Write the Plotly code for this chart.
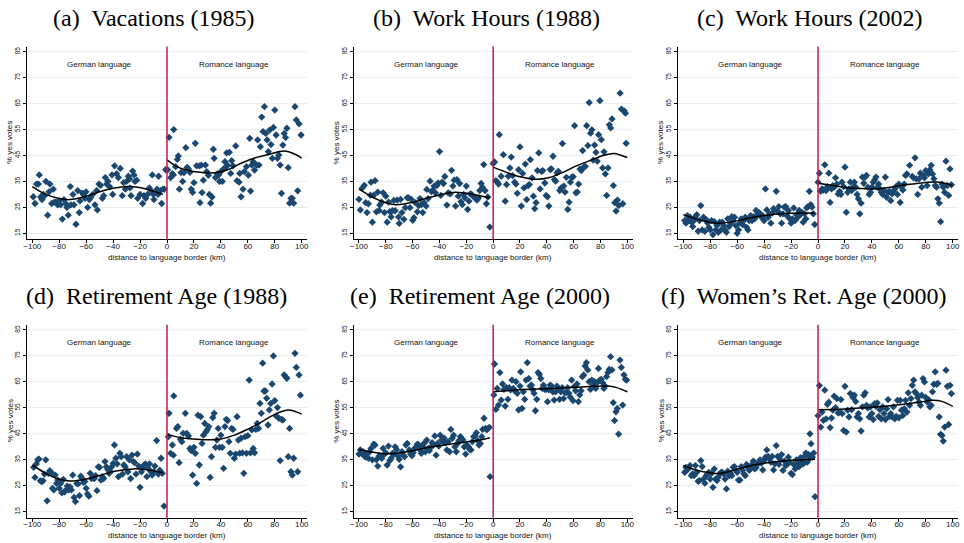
import plotly.graph_objects as go

# ---------------- data (x = distance to border in km, y = % yes votes) ----------------
A_DE = [(-99.3,29.1),(-98,26.5),(-96.8,34),(-95.5,34),(-94.8,37.5),(-93.8,29),(-92.8,28),(-91.8,30),(-90.8,29.5),(-89.9,35),
        (-88.6,22),(-87.6,31),(-86.9,34),(-85.6,26.5),(-84.4,32),(-83.7,27),(-82.4,27),(-81.2,26),(-80,27.5),(-79,26),
        (-77.7,20.5),(-76.5,28),(-75.2,26.5),(-74.3,25),(-73.3,22),(-71.8,33),(-71.3,26),(-69.8,30),(-69.1,26),(-67.6,18.5),
        (-66.3,31.5),(-65.1,23),(-64.6,27.5),(-62.9,30.5),(-62.1,30),(-60.9,28.5),(-60.1,31),(-58.9,25),(-57.7,28),(-56.4,29),
        (-55.2,30),(-53.5,26),(-52.2,31.5),(-51.7,24),(-50.5,34),(-49.3,33.5),(-48,28.5),(-47,29.5),(-45.8,36.5),(-44.8,34),
        (-43.8,35),(-42.6,33),(-40.3,30),(-40.8,37.5),(-38.9,41),(-37.4,38),(-34.7,40),(-36.1,36.5),(-33.2,29.5),(-32.2,34.5),
        (-30.9,32),(-30,35),(-28.7,37),(-27.7,36),(-27.5,32.5),(-26.7,29.5),(-25.5,39),(-24.5,37.5),(-23.8,35),(-22.5,35.5),
        (-21.8,28.5),(-20,30),(-18.1,26.5),(-17.1,29.5),(-15.8,28.5),(-14.4,30),(-13.1,32.5),(-10.9,37.5),(-11.9,31.5),(-10.1,30),
        (-9.7,28),(-7.4,32),(-6.7,30),(-6.2,37),(-5,31.5),(-4,26.5),(-3,32),(-2,32),(-1,39.5)]
A_RO = [(0.5,39.5),(1.5,52),(2.7,36.5),(4,38),(4.7,37.5),(5,55),(6.4,40.7),(7.7,43.5),(8.4,44.8),(9.2,32),
        (10.4,38.4),(11.6,35),(12.6,38.4),(14,48),(14.9,40.4),(16,39.8),(17,38.5),(18,32),(19,30.8),(20,34.5),
        (21,49.7),(22,41),(24,41),(24.5,26.8),(25.5,41.3),(26,30.7),(27,35.5),(28.5,41.3),(29.5,38.8),(30.7,37.3),
        (31.4,30),(32.4,26.6),(33.4,29),(34.4,47.4),(35,43.9),(36,36.5),(37.4,37.9),(38.4,37.5),(39,35),(40,38.8),
        (41,35),(42.3,40),(43,42.6),(44.3,46),(45,41.2),(46.3,46.2),(47.3,38.1),(48,43),(49,41),(51,48.7),
        (52,35.3),(53.5,34.7),(54,38.1),(55,29.1),(56.4,32),(57.4,38.8),(59,40.7),(60.4,37.4),(61.4,51.6),(62,31.3),
        (63,41.3),(64,42.6),(65,39.4),(66.6,41.3),(67.3,51),(68.3,41.3),(69.3,48.4),(70.3,59.8),(71.3,54.2),(72.3,63.8),
        (73.3,53.5),(74.3,51),(75.2,46.5),(76.2,54.8),(77.2,49.2),(78.2,43.9),(79,55.8),(80,62.5),(81,52.9),(82,43.9),
        (83,45.2),(84,41.3),(85,30.4),(86,49),(87,53.5),(88,51.9),(89,55.5),(90,40.3),(91,26.6),(92,28.5),
        (93,28.5),(94,26.6),(95,63.8),(96,58.7),(97,31.4),(98,57.2),(99.5,52.9)]
B_DE = [(-100,28.1),(-99,24),(-97.5,32.5),(-96,33.5),(-95,26.8),(-94,23),(-93,26.4),(-91.5,29.7),(-91,34.7),(-90,19.3),
        (-89,29.7),(-88,35.3),(-87,23.3),(-86,30.9),(-85,23.8),(-84.5,25.9),(-83,27),(-82,30.6),(-81,23),(-80,29.3),
        (-79,19.3),(-78,27),(-77,23.4),(-76,21.3),(-75,23.7),(-74,27.7),(-73,23.7),(-71.5,27.8),(-70.5,21.3),(-70,18.8),
        (-69,28.1),(-68,23),(-66.5,20.4),(-65.5,24.9),(-64,28.7),(-63,28.7),(-62,24.9),(-61,28.1),(-60,20),(-59,21),
        (-58,26.8),(-56.5,23.3),(-55.5,25.7),(-54.5,28.4),(-53.5,26.1),(-52.5,23),(-51.5,26.8),(-50,25.5),(-49.5,31.9),(-48.5,28.4),
        (-47,35.1),(-46,31.1),(-45,31.6),(-44,33.2),(-43,30.6),(-42,33.4),(-41,34.4),(-40,46.5),(-39,29.6),(-38,34.7),
        (-37,34.2),(-36,36.9),(-34.5,25.9),(-33.5,30.6),(-32,30.2),(-31,39.3),(-30,33.2),(-29,35.5),(-28,25.5),(-27,35.7),
        (-26,29.3),(-25,34.2),(-24,27.2),(-23,26.1),(-22,30),(-21,28.7),(-20,33.2),(-19,24.2),(-18,27.4),(-17,30.2),
        (-16,30),(-15,29.3),(-13,28.3),(-12,27.8),(-11,28.6),(-10,31.5),(-9,34.2),(-8,32.8),(-7,41.5),(-6,31.5),
        (-5,26.4),(-4,29),(-2.5,17.4)]
B_RO = [(0,41.9),(1,42.5),(2,35.3),(3,34.8),(4,34),(4.6,53),(6,37),(7.6,45.3),(9,27.4),(10,33.8),
        (11.3,37),(12.5,40.2),(13.5,44.4),(14.5,37.2),(16,34.7),(17,34),(18,30.4),(19,39.5),(20,48.3),(21,25.5),
        (22,38.1),(23,32.5),(24,41.7),(25,28),(26,33.4),(27,33.8),(27.7,43.4),(29,36.4),(30,29.3),(31,24.5),
        (32,26.8),(33,39.2),(34,46),(35,32.1),(36,38.9),(37,39.2),(38.5,34.4),(39.5,29.6),(40.5,29.1),(41.5,25.5),
        (42.5,39.6),(43.4,39.8),(44.6,44.7),(45.6,35.7),(46.6,35.1),(47.6,38.3),(48.6,38.9),(49.6,31.5),(50.6,32.5),(51.6,49.6),
        (52.6,33.2),(53.6,30.9),(54.6,36.6),(55.6,24.2),(56.6,27),(57.6,34.7),(58.6,36.6),(59.6,36.8),(60.7,56.5),(61.7,30.6),
        (62.7,30.9),(63.7,34),(64.7,39.8),(65.7,39.2),(66.7,46.9),(67.7,40.6),(68.7,40.8),(69.7,56.5),(70.6,48.8),(71.6,65.4),
        (72.6,53.6),(73.6,54.9),(74.6,43.2),(75.6,49),(76.6,46.2),(77.6,42.8),(78.6,53),(79.6,66.1),(80.6,51.1),(81.6,40.2),
        (82.6,46.4),(83.6,37.9),(84.6,29.6),(85.6,40.2),(86.6,56.8),(87.6,55.6),(88.6,59.1),(89.6,33.4),(90.6,26.8),(91.6,23.6),
        (92.6,27.8),(93.6,25.7),(94.6,69),(95.6,62.9),(96.6,26.4),(97.6,62.2),(98.6,61.3),(99.1,49.7)]
C_DE = [(-99,19.9),(-98,18.9),(-97,21.8),(-96,20.2),(-95,21.2),(-94,19.3),(-93,17.6),(-92,19.9),(-91,21.4),(-90,22.2),
        (-89,15.8),(-88,19.9),(-87,25.7),(-86,16.3),(-85,21.2),(-84,15.8),(-83,20.3),(-82,19),(-81,17.3),(-80,16.3),
        (-79,19.9),(-78,14.5),(-77,19.5),(-76,16.3),(-75,18),(-74,15.4),(-73,19.3),(-72,16.3),(-71,19.3),(-70,18),
        (-69,16.3),(-68,15.4),(-67,20.6),(-66,17.6),(-65,18.6),(-64,21.4),(-63,19.9),(-62,21.2),(-61,18),(-60,15),
        (-59,16.3),(-58,18.9),(-57,20.6),(-56,18.4),(-55,19.9),(-54,21.2),(-53,17.3),(-52,16.3),(-51,19.9),(-50,21.8),
        (-49,19.9),(-48,21.4),(-47,20.6),(-46,23.8),(-45,22.2),(-44,23.1),(-43,22.5),(-42,21.2),(-41,21.8),(-40,19.9),
        (-39,32.1),(-38,24),(-37,21.2),(-36,22.5),(-35,18.9),(-34,22.8),(-33,24.5),(-31,31.2),(-30,23.5),(-29,25.3),
        (-28,22.5),(-27,18.9),(-26,22.5),(-25,25.1),(-24,25.3),(-23,21.8),(-22,23.8),(-21,20.6),(-20,18.9),(-19,20.6),
        (-18,24.8),(-17,19.9),(-16,22.2),(-15,21.2),(-14,23.8),(-13,22.2),(-12,23.1),(-11,19.3),(-10,22.5),(-9,20.6),
        (-8.4,24.8),(-7.4,25.3),(-6.4,31.2),(-5.4,26.1),(-4.5,25.1),(-3.5,22.5),(-2.5,18.4)]
C_RO = [(0,34.7),(1,38.2),(2,31.2),(3,32.1),(4,31.7),(5,41.4),(6,31.5),(7,33),(8,38.2),(9,26.9),
        (10,32.1),(11,33.4),(12,32.8),(13,36.4),(14,34),(15,30.2),(16,31.2),(17,30),(17.8,34.7),(19,33),
        (20,40.5),(21,23.1),(22,30.8),(23,32.1),(24,34.7),(25,31.5),(26,32.8),(27,34.7),(28,32.8),(29,30),
        (30,28.3),(31,22.5),(32,26.6),(33,36.7),(34,34.3),(35,36.7),(36,37.3),(37,32.8),(38,30),(39,30.8),
        (40,32.8),(41,34.7),(42,35.6),(43,36.7),(44,32.8),(45,34),(46,32.1),(47,30.8),(48,30),(49,31.5),
        (50,36.7),(51,28.9),(52,30.8),(53,31.2),(54,27.6),(55,30.2),(56,31.2),(57,32.1),(58,33),(59,30),
        (60,34),(61,26.9),(62,32.8),(63,31.7),(64,34),(65,37.3),(66,37.9),(68,41.2),(70,36.9),(71,36.4),
        (72,44.1),(73,36),(74,30),(75,36),(76,38.2),(77,32.8),(78,37.3),(79,36.4),(80,39.2),(81,33.4),
        (82,37.9),(83,39.5),(84,41.2),(85,37.9),(86,36),(87,33.4),(88,32.8),(89,28.3),(90,26.6),(91,19.5),
        (92,34),(93,32.8),(94,30.8),(95,42.8),(96,33.4),(97,29.6),(98,39.8),(99,33.7)]
D_DE = [(-99,32.1),(-98,28.2),(-97,33.4),(-96,35),(-95,35.3),(-94,26.9),(-93,26.6),(-92,26.9),(-91,29.5),(-90,35),
        (-89,19.2),(-88,29.8),(-87,30.8),(-86,30.2),(-85,24),(-84,23.4),(-83,29.1),(-82,25.9),(-81,27.2),(-80,24),
        (-79,25.9),(-78,22.3),(-77,27.5),(-76,22.7),(-75,23.4),(-74,24.9),(-73,23.4),(-72,24.6),(-71,23.4),(-70,29.1),
        (-69,20.5),(-68,18.9),(-67,25.9),(-66,25.7),(-65,21.2),(-64,28.7),(-63,27.8),(-62,26.3),(-61,26.6),(-60,24),
        (-59,21.8),(-58,21),(-57,29.8),(-56,27.8),(-55,28.5),(-54,27.8),(-53,28.9),(-52,23.1),(-51,32.3),(-50,32.1),
        (-49,27.2),(-48,28.5),(-47,27.8),(-46,34.3),(-45,32.3),(-44,31.3),(-43,29.8),(-42,30.4),(-41,32.3),(-40,33.6),
        (-39,40.7),(-38,35.6),(-37,33.4),(-36,28.5),(-35,37.5),(-34,36.2),(-33,29.5),(-32,33),(-31,32.3),(-30,36.2),
        (-29,30.4),(-28,35),(-27,27.8),(-26,36.8),(-25,34.3),(-24,33.9),(-23,29.5),(-22,37.2),(-21,32.6),(-20,24.4),
        (-19,30.4),(-18,32.3),(-17,33),(-16,33.4),(-15,28.5),(-14,31.7),(-13,33.4),(-12,30.4),(-11,29.1),(-10,30.4),
        (-9,32.6),(-7.7,42.4),(-6.4,29.5),(-5.4,31),(-4.4,35.6),(-3.5,29.8),(-2.2,17.2)]
D_RO = [(1,43.9),(1.5,52.9),(2.7,37.5),(4,40.7),(5,59.6),(4.7,36.8),(7,47.1),(8,47.8),(9,33.9),(10,42.9),
        (11,42),(12,45.2),(13.6,52.9),(14.6,45.2),(16,44.2),(17,39.4),(18,38.5),(19,29.1),(20,39.8),(21,37.5),
        (22,25.9),(23,52.2),(24,33),(25,51.6),(26,41.3),(27,44.5),(28,49),(29,45.8),(30,46.7),(31,47.8),
        (32,28.2),(33,36.2),(34,51.3),(35,52.9),(36,39.8),(37,42.6),(38,47.1),(39,39.8),(40,44.5),(41,39.8),
        (42,31.7),(43,47.8),(44,50.6),(45,50.1),(46,42),(47,37.5),(48,47.1),(49,46.7),(50,35.6),(51,37.2),
        (52,51.6),(53,42.6),(54,37.5),(55,43.3),(56,37.7),(57,29.8),(58,43.9),(59,37.5),(60,44.3),(61,65.7),
        (62,37.7),(63,46.5),(64,39.4),(65,37.7),(66,46.7),(67,49),(68,47.1),(69,56.7),(70,52.9),(71,72.2),
        (72,61.5),(73,61.5),(74,58.7),(75,48.4),(76,54.2),(77,56.7),(78,64.2),(79,75),(80,57.8),(81,51.9),
        (82,55.1),(83,51),(84,34.7),(85,50.6),(86,50.3),(87,67.7),(88,67),(89,66.4),(90,36.2),(91,47.1),
        (92,30.4),(93,29.1),(94,35.6),(95,76),(96,70.6),(97,30.4),(98,67.7),(99,59.9)]
E_DE = [(-100,37.2),(-99,38.8),(-98,37.5),(-97,38.1),(-96,36.5),(-95,36),(-94,37.2),(-93,35.6),(-92,38.1),(-91,39.4),
        (-90,35),(-89,41),(-88,40.7),(-87,35),(-86,32.6),(-85,36.5),(-84,36.2),(-83,35.6),(-82,39.4),(-81,37.2),
        (-80,37.7),(-79,33),(-78,40.3),(-77,34.7),(-76,35.6),(-75,37.5),(-74,37.2),(-73,40),(-72,39),(-71,36.5),
        (-70,35.2),(-69,32.3),(-68,38.1),(-67,36.8),(-66,36.2),(-65,40.7),(-64,41.3),(-62.5,38.8),(-61.5,37.2),(-60.5,36.6),
        (-59.5,37.7),(-58.5,39.4),(-57.5,39.8),(-56.5,41),(-55.5,40.7),(-54.5,38.8),(-53.5,37.5),(-52.5,40),(-51.5,41.3),(-50.5,38.1),
        (-49.5,42.6),(-48.5,39.4),(-47.5,38.5),(-46.5,39.8),(-45.5,41.6),(-44.5,40.7),(-43.5,44.2),(-42.5,36.8),(-41.5,41.3),(-40.5,40.3),
        (-39.5,44.5),(-38.5,42.6),(-37.5,42),(-36.5,43.3),(-35.5,41.6),(-34.5,38.8),(-33.5,42),(-32.5,38.1),(-31.5,46.7),(-30.5,43.3),
        (-29.5,44.5),(-28.5,40),(-27.5,38.1),(-26.5,41.3),(-25.5,42.4),(-24.5,43.9),(-23.5,43.3),(-22.5,42.6),(-21.5,40),(-20.5,37.2),
        (-19.5,40.7),(-18.5,40),(-17.5,39),(-16.5,38.8),(-15.5,42),(-14.5,43.9),(-13.5,44.2),(-12.5,45.4),(-11.5,42.4),(-10.5,40.7),
        (-9.5,41.3),(-8.5,43.9),(-7.8,46.7),(-6.8,51),(-5.8,47.1),(-4.8,46.5),(-3.8,47.1),(-2.8,47.5),(-2.3,28.5)]
E_RO = [(0.5,60),(1,71.9),(2,54.4),(3,62.5),(4,56.1),(5,68.6),(6,58),(7,64.2),(8,62.1),(9,55.7),
        (10,62.8),(11,58.3),(12,62.8),(13,61.9),(14,65.7),(15,62.5),(16,61.6),(17,65.1),(18,60.6),(19,54.2),
        (20,63.4),(20.5,68.9),(21.5,54.8),(22.5,61.2),(23.5,58.3),(24.5,65.7),(25.5,72.4),(26.5,66.3),(27.5,63.4),(28.5,63.8),
        (29.5,61.9),(30.5,60.6),(31.5,53.9),(32.5,58.3),(33.5,68.6),(34.5,67.9),(35.5,66.3),(36.5,62.5),(37.5,63.8),(38.5,62.1),
        (39.5,62.1),(40.5,57.4),(41.5,61.9),(42.5,63.8),(43.5,63.4),(44.5,61.2),(45.5,58),(46.5,61.2),(47.5,63.4),(48.5,62.5),
        (49.5,58.3),(50.5,61.2),(51.5,62.8),(52.5,58.6),(53.5,60.9),(54.5,60.9),(55.5,62.8),(56.5,60.6),(57.5,59.1),(58.5,65.7),
        (59.5,57.8),(60.5,63.2),(61.5,61.6),(62.5,64.2),(63.5,57.4),(64.5,60),(65.5,61.6),(66.5,67),(67.5,67.7),(68.5,71.1),
        (69.5,72.4),(70.5,69.6),(71.5,65.1),(72.5,62.1),(73.5,65.7),(74.5,63.8),(75.5,65.1),(76.5,62.5),(77.5,64.7),(78.5,70.2),
        (79.5,65.7),(80.5,66),(81.5,64.7),(82.5,62.5),(83.5,63.4),(84.5,67),(85.5,68.6),(86.5,69.8),(87.5,74.7),(88.5,69.6),
        (89.5,57),(90.5,50.1),(91.5,53.5),(92.5,54.8),(93.5,44.9),(94.5,73.4),(95.5,70.6),(96.5,56.1),(97.5,67.7),(98.5,66),(99.5,65.7)]
F_DE = [(-99,30.2),(-98,32.1),(-97,31.1),(-96,31.9),(-95,32.8),(-94,28.9),(-93,29.6),(-92,28.9),(-91,32.8),(-90,30.2),
        (-89,26.7),(-88,27),(-87,34.7),(-86,32.4),(-85,27.6),(-84,26),(-83,28.9),(-82,29.6),(-81,30.2),(-80,27.6),
        (-79,29.8),(-78,24.4),(-77,31.5),(-76,27.6),(-75,27),(-74,28.3),(-73,29.6),(-72,30.2),(-71,30.2),(-70,29.6),
        (-69,27.6),(-68,23.8),(-67,30.6),(-66,28.9),(-65,29.8),(-64,28.9),(-63,32.1),(-62,32.4),(-61,30.9),(-60,30.2),
        (-59,27.2),(-58,27.2),(-57,32.4),(-56,31.1),(-55,29.6),(-54,28.9),(-53,33.2),(-52,32.1),(-51,30.9),(-50,32.4),
        (-49,33.2),(-48,34.5),(-47,31.5),(-46,31.9),(-45,33.2),(-44,34.1),(-43,35),(-42,33.7),(-41,31.1),(-40,34.7),
        (-39,36),(-38,38.8),(-37,36.3),(-36,35.4),(-35,34.1),(-34,36.3),(-33,31.1),(-32,33.4),(-31,40.5),(-30,36.3),
        (-29,33.2),(-28,35),(-27,37),(-26,30.9),(-25,34.5),(-24,32.8),(-23,33.2),(-22,36),(-21,34.1),(-20,29.8),
        (-19,29.3),(-18,33.2),(-17,31.5),(-16,35),(-15,33.4),(-14,32.4),(-13,35.8),(-12,34.5),(-11,33.4),(-10,36.3),
        (-9,37.6),(-8,34.1),(-7,37),(-6.4,35.4),(-6,45),(-5.2,41.2),(-4.2,36),(-3.2,37.6),(-2.2,20.8)]
F_RO = [(0,52),(1,63.6),(2,47.6),(3,53.4),(4,50.2),(5,61.8),(6,50.8),(7,56.4),(8,57.2),(9,47.4),
        (10,51.1),(11,54.1),(12,59.5),(13,55.1),(14,58.6),(15,53),(16,53.4),(17,58.2),(18,52.8),(19,46.3),
        (20,63.3),(21,45.7),(22,54.1),(23,51.5),(24,60.5),(25,54.3),(26,59),(27,59.9),(28,57.5),(29,51.5),
        (30,52.8),(31,50.8),(32,46.1),(33,55.4),(34,59.9),(35,60.8),(36,56),(37,55),(38,51.5),(39,55.4),
        (40,52.8),(41,50.5),(42,56.6),(43,55.6),(44,56.9),(45,51.7),(46,54.3),(47,50.8),(48,55.4),(49,52.8),
        (50,50.5),(51,54.7),(52,58.2),(53,51.7),(54,52.8),(55,51.5),(56,55.4),(57,50.8),(58,51.7),(59,57.9),
        (60,51.2),(61,57.9),(62,54.1),(63,52.1),(64,54.7),(65,57.9),(66,53.4),(67,60.8),(68,56),(69,58.6),
        (70,63.7),(71,65.7),(72,61.2),(73,60.5),(74,59),(75,57.3),(76,56),(77,59.9),(78,66.3),(79,65),
        (80,59),(81,57.3),(82,58.2),(83,55.4),(84,56),(85,61.2),(86,64.1),(87,68.9),(88,64.1),(89,64.4),
        (90,51.5),(91,44.8),(92,44.4),(93,42.2),(94,47.6),(95,69.5),(96,63.3),(97,48.6),(98,63.7),(99,60.5)]

# fitted curves (knots)
A_DE_FIT = [(-100,33),(-90,30),(-80,28.4),(-72,28),(-60,29.3),(-50,31),(-40,32.4),(-27,33),(-15,32),(-3,30)]
A_RO_FIT = [(0,43.3),(8,40.5),(15,39.3),(25,38.5),(35,38.3),(45,39.5),(55,42),(65,44),(75,45.3),(87,46.7),(95,45.5),(100,44)]
B_DE_FIT = [(-100,32),(-90,29),(-80,26.8),(-72,26),(-60,27),(-50,28.5),(-40,29.8),(-28,30.8),(-15,30),(-2.5,28.7)]
B_RO_FIT = [(0,40.5),(10,38.5),(20,36.8),(32,35.8),(42,36.5),(52,38.5),(62,41),(72,43),(82,45),(90,45.8),(100,44.2)]
C_DE_FIT = [(-100,22.2),(-90,20.5),(-80,19.2),(-74,18.9),(-60,19.8),(-50,21),(-35,22.2),(-20,22.7),(-2.5,22.8)]
C_RO_FIT = [(0,34.3),(10,33.5),(20,32.7),(30,32.3),(40,32.1),(50,32.5),(60,33.3),(70,34),(80,34.6),(88,34.8),(95,34.2),(100,33.4)]
D_DE_FIT = [(-100,33),(-90,29.8),(-80,27.5),(-72,26.8),(-60,27.6),(-50,29),(-38,30.7),(-25,31.5),(-15,31.2),(-3,30)]
D_RO_FIT = [(0,44.9),(10,43.5),(20,43),(30,42.7),(40,43),(50,44.5),(60,46.8),(70,49.5),(80,52.5),(90,54.2),(100,52.6)]
E_DE_FIT = [(-100,39),(-90,38),(-80,37.3),(-72,37.5),(-60,38.5),(-48,39.8),(-35,40.8),(-20,41.9),(-10,42.6),(-2.5,43.5)]
E_RO_FIT = [(0,61.2),(20,62),(40,62.4),(60,62.9),(75,63.3),(85,63.4),(92,62.8),(100,61.2)]
F_DE_FIT = [(-100,32.8),(-90,31),(-80,30),(-72,29.8),(-60,31.4),(-48,33),(-35,34),(-20,34.8),(-10,35),(-2.2,35.2)]
F_RO_FIT = [(0,54.3),(20,54.6),(40,55.2),(60,56.2),(75,57.2),(85,57.9),(92,57.5),(100,55.6)]

TITLES = ["(a)\u00a0 Vacations (1985)", "(b)\u00a0 Work Hours (1988)", "(c)\u00a0 Work Hours (2002)",
          "(d)\u00a0 Retirement Age (1988)", "(e)\u00a0 Retirement Age (2000)", "(f)\u00a0 Women\u2019s Ret. Age (2000)"]
X_TICKS = [-100, -80, -60, -40, -20, 0, 20, 40, 60, 80, 100]
Y_TICKS = [15, 25, 35, 45, 55, 65, 75, 85]
X_TITLE = "distance to language border (km)"
Y_TITLE = "% yes votes"
SIDE_LABELS = ["German language", "Romance language"]

panels = [
    (A_DE, A_RO, A_DE_FIT, A_RO_FIT), (B_DE, B_RO, B_DE_FIT, B_RO_FIT), (C_DE, C_RO, C_DE_FIT, C_RO_FIT),
    (D_DE, D_RO, D_DE_FIT, D_RO_FIT), (E_DE, E_RO, E_DE_FIT, E_RO_FIT), (F_DE, F_RO, F_DE_FIT, F_RO_FIT),
]

# ---------------- layout geometry ----------------
W, H = 964, 543
col_px = [(26.9, 307.1), (353.6, 632.7), (677.9, 958.1)]
row_px = [(46.5, 239.3), (324.8, 517.7)]
title_cx = [[154, 486, 810], [156, 480, 804]]
title_cy = [18, 296]
ytitle_x = [10, 336.5, 661]

NAVY = "#1a476f"
RED = "#c8174a"
GRID = "#e6eef2"
SANS = "Liberation Sans, Arial, sans-serif"
SERIF = "Liberation Serif, Times New Roman, serif"

fig = go.Figure()
layout = dict(width=W, height=H, margin=dict(l=0, r=0, t=0, b=0),
              paper_bgcolor="white", plot_bgcolor="white", showlegend=False)
annotations = []
shapes = []

for i, (de, ro, de_fit, ro_fit) in enumerate(panels):
    r, c = divmod(i, 3)
    k = "" if i == 0 else str(i + 1)
    xa, ya = "x" + k, "y" + k
    x0, x1 = col_px[c]
    y0, y1 = row_px[r]
    layout["xaxis" + k] = dict(
        domain=[x0 / W, x1 / W], anchor=ya, range=[-104, 104],
        tickmode="array", tickvals=X_TICKS, ticks="outside", ticklen=3, tickwidth=1, tickcolor="black",
        ticklabelstandoff=-4,
        showline=True, linecolor="black", linewidth=1, showgrid=False, zeroline=False,
        tickfont=dict(family=SANS, size=8, color="#111"), automargin=False)
    layout["yaxis" + k] = dict(
        domain=[1 - y1 / H, 1 - y0 / H], anchor=xa, range=[12.7, 87],
        tickmode="array", tickvals=Y_TICKS, ticks="outside", ticklen=3, tickwidth=1, tickcolor="black",
        tickangle=-90, showline=True, linecolor="black", linewidth=1,
        showgrid=True, gridcolor=GRID, gridwidth=1, zeroline=False,
        tickfont=dict(family=SANS, size=6.5, color="#111"), automargin=False)

    for side in (de, ro):
        fig.add_trace(go.Scatter(
            x=[p[0] for p in side], y=[p[1] for p in side], mode="markers", xaxis=xa, yaxis=ya,
            marker=dict(symbol="diamond", size=5.6, color=NAVY, line=dict(width=0)),
            hoverinfo="skip"))
    for fit in (de_fit, ro_fit):
        fig.add_trace(go.Scatter(
            x=[p[0] for p in fit], y=[p[1] for p in fit], mode="lines", xaxis=xa, yaxis=ya,
            line=dict(color="black", width=1.5, shape="spline", smoothing=1.0), hoverinfo="skip"))

    shapes.append(dict(type="line", xref=xa, yref=ya + " domain", x0=0, x1=0, y0=0, y1=1,
                       line=dict(color=RED, width=1.5), layer="above"))
    for xv, txt in zip((-50, 50), SIDE_LABELS):
        annotations.append(dict(x=xv, y=80, xref=xa, yref=ya, text=txt, showarrow=False,
                                font=dict(family=SANS, size=8, color="#111")))
    # axis titles
    annotations.append(dict(x=0, y=(1 - (y1 + 18) / H), xref=xa, yref="paper", text=X_TITLE,
                            showarrow=False, xanchor="center", yanchor="middle",
                            font=dict(family=SANS, size=8, color="#111")))
    annotations.append(dict(x=ytitle_x[c] / W, y=1 - (y0 + y1) / 2 / H, xref="paper", yref="paper",
                            text=Y_TITLE, textangle=-90, showarrow=False, xanchor="center", yanchor="middle",
                            font=dict(family=SANS, size=8, color="#111")))
    annotations.append(dict(x=title_cx[r][c] / W, y=1 - title_cy[r] / H, xref="paper", yref="paper",
                            text=TITLES[i], showarrow=False, xanchor="center", yanchor="middle",
                            font=dict(family=SERIF, size=24, color="black")))

layout["annotations"] = annotations
layout["shapes"] = shapes
fig.update_layout(**layout)
fig.write_html("out.html", config={"displayModeBar": False},
               post_script="document.body.style.margin='0';document.body.style.overflow='hidden';")
